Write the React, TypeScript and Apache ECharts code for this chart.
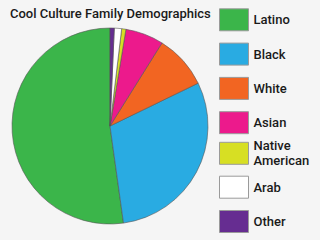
import React, { useEffect, useRef } from "react";
import * as echarts from "echarts";

const categories = ["Latino", "Black", "White", "Asian", "Native\nAmerican", "Arab", "Other"];
const values = [52.2, 30.0, 8.9, 6.3, 0.7, 1.2, 0.7];
const colors = ["#3bb54a", "#29abe2", "#f26522", "#ec1a8c", "#d7df23", "#ffffff", "#662d91"];
const titleText = "Cool Culture Family Demographics";

const FONT = "Roboto";

export default function App() {
  const ref = useRef<HTMLDivElement>(null);
  useEffect(() => {
    if (!ref.current) return;
    const chart = echarts.init(ref.current, undefined, { renderer: "svg" });
    const legendCommon = {
      orient: "vertical" as const,
      left: 219,
      padding: 0,
      height: 200,
      itemWidth: 29,
      itemHeight: 22,
      itemGap: 11.3,
      icon: "rect",
      itemStyle: { borderColor: "#9a9a9a", borderWidth: 1 },
      textStyle: { fontFamily: FONT, fontSize: 13, fontWeight: 500, color: "#1a1a1a", lineHeight: 15 },
      selectedMode: false,
    };
    chart.setOption({
      animation: false,
      backgroundColor: "#f5f5f5",
      title: {
        text: titleText,
        left: 5,
        top: 2,
        textStyle: { fontFamily: FONT, fontSize: 13, fontWeight: 500, color: "#1a1a1a" },
      },
      legend: [
        { ...legendCommon, top: 8.3, data: categories.slice(0, 4) },
        { ...legendCommon, top: 138.3, data: categories.slice(4, 5) },
        { ...legendCommon, top: 175.7, data: categories.slice(5) },
      ],
      series: [
        {
          type: "pie",
          center: [110, 126],
          radius: 98,
          startAngle: 90,
          clockwise: false,
          label: { show: false },
          labelLine: { show: false },
          emphasis: { disabled: true },
          itemStyle: { borderColor: "#555", borderWidth: 0.6 },
          data: categories.map((c, i) => ({ name: c, value: values[i], itemStyle: { color: colors[i] } })),
        },
      ],
    });
    return () => chart.dispose();
  }, []);
  return <div ref={ref} style={{ position: "fixed", left: 0, top: 0, width: 320, height: 240 }} />;
}
